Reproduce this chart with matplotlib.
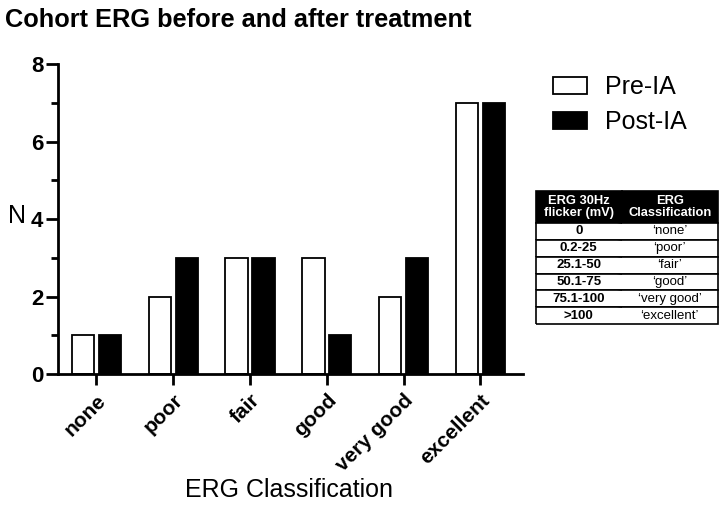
import matplotlib.pyplot as plt
import numpy as np

plt.rcParams['font.family'] = ['Liberation Sans', 'DejaVu Sans']

categories = ['none', 'poor', 'fair', 'good', 'very good', 'excellent']
pre_ia = [1, 2, 3, 3, 2, 7]
post_ia = [1, 3, 3, 1, 3, 7]

table_header = ['ERG 30Hz\nflicker (mV)', 'ERG\nClassification']
flicker_ranges = ['0', '0.2-25', '25.1-50', '50.1-75', '75.1-100', '>100']
class_names = ["\u2018none\u2019", "\u2018poor\u2019", "\u2018fair\u2019", "\u2018good\u2019",
               "\u2018very good\u2019", "\u2018excellent\u2019"]

fig = plt.figure(figsize=(7.2, 5.12), dpi=100)
ax = fig.add_axes([0.0806, 0.2695, 0.6454, 0.6055])

x = np.arange(len(categories))
w = 0.29
ax.bar(x - 0.175, pre_ia, w, color='white', edgecolor='black', linewidth=1.3, label='Pre-IA')
ax.bar(x + 0.175, post_ia, w, color='black', edgecolor='black', linewidth=1.3, label='Post-IA')

ax.set_xlim(-0.5, 5.55)
ax.set_ylim(0, 8)
ax.set_yticks([0, 2, 4, 6, 8])
ax.set_yticks([1, 3, 5, 7], minor=True)
ax.set_xticks(x)
ax.set_xticklabels(categories, rotation=45, ha='right', rotation_mode='anchor',
                   fontsize=15, fontweight='bold')
for lab in ax.get_yticklabels():
    lab.set_fontweight('bold')
    lab.set_fontsize(16)
ax.tick_params(axis='y', which='major', direction='out', length=9, width=2, pad=1.5)
ax.tick_params(axis='y', which='minor', direction='out', length=5, width=2)
ax.tick_params(axis='x', direction='out', length=8, width=2, pad=4)
for side in ['top', 'right']:
    ax.spines[side].set_visible(False)
for side in ['left', 'bottom']:
    ax.spines[side].set_linewidth(2)

ax.set_ylabel('N', rotation=0, fontsize=18, va='center', ha='center')
ax.yaxis.set_label_coords(-0.088, 0.51)
ax.set_xlabel('ERG Classification', fontsize=18, va='top')
ax.xaxis.set_label_coords(0.497, -0.335)

fig.text(0.007, 0.985, 'Cohort ERG before and after treatment', fontsize=18.3,
         fontweight='bold', va='top', ha='left')

fig.legend(loc='upper left', bbox_to_anchor=(553 / 720, 1 - 75 / 512), frameon=False,
           fontsize=18, handlelength=1.36, handleheight=0.7, labelspacing=0.45,
           handletextpad=0.72, borderpad=0, borderaxespad=0)

# classification table
tax = fig.add_axes([536 / 720, 1 - 324 / 512, 182 / 720, 133 / 512])
tax.axis('off')
cell_text = [[a, b] for a, b in zip(flicker_ranges, class_names)]
tbl = tax.table(cellText=[table_header] + cell_text, bbox=[0, 0, 1, 1],
                colWidths=[0.47, 0.53], cellLoc='center')
tbl.auto_set_font_size(False)
for (r, c), cell in tbl.get_celld().items():
    cell.set_linewidth(1.2)
    if r == 0:
        cell.set_height(32 / 133)
        cell.set_facecolor('black')
        cell.get_text().set_color('white')
        cell.get_text().set_fontweight('bold')
        cell.get_text().set_fontsize(9.3)
        cell.get_text().set_linespacing(1.0)
    else:
        cell.visible_edges = 'BTL' if c == 0 else 'BTR'
        cell.set_height(16.8 / 133)
        cell.get_text().set_fontsize(9.5)
        if c == 0:
            cell.get_text().set_fontweight('bold')

fig.savefig('out.png', dpi=100)
